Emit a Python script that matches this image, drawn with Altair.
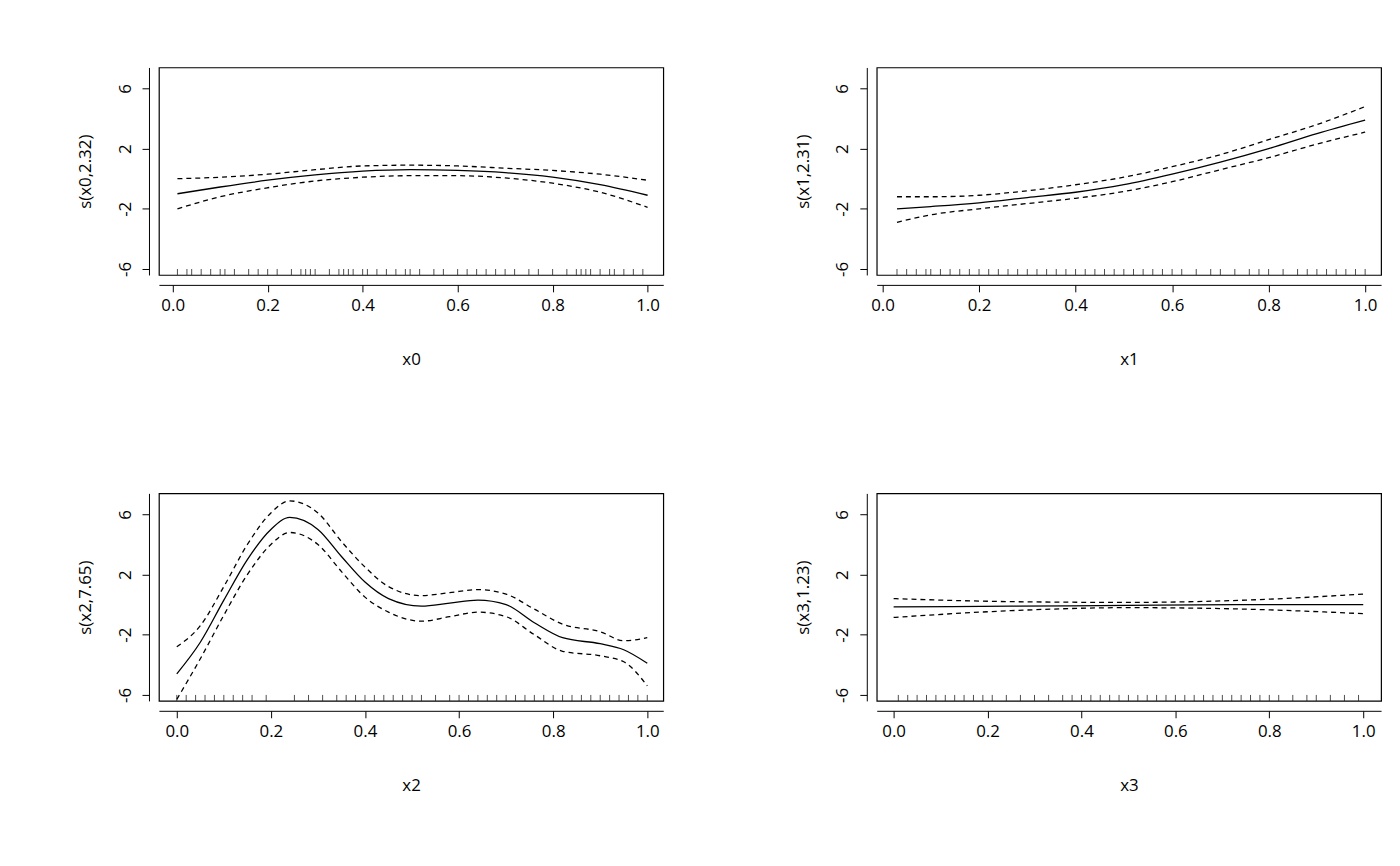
import altair as alt
import pandas as pd

# --- data ---
x0_x = [0.01, 0.1, 0.2, 0.3, 0.4, 0.5, 0.6, 0.7, 0.8, 0.9, 1.0]
x0_fit = [-1.0, -0.55, -0.1, 0.25, 0.5, 0.6, 0.55, 0.4, 0.1, -0.4, -1.1]
x0_up = [0.0, 0.1, 0.3, 0.6, 0.85, 0.9, 0.85, 0.7, 0.55, 0.3, -0.1]
x0_lo = [-2.0, -1.2, -0.6, -0.15, 0.1, 0.2, 0.2, 0.05, -0.3, -0.9, -1.9]

x1_x = [0.03, 0.1, 0.2, 0.3, 0.4, 0.5, 0.6, 0.7, 0.8, 0.9, 1.0]
x1_fit = [-2.0, -1.85, -1.6, -1.25, -0.9, -0.4, 0.3, 1.1, 2.0, 3.0, 3.9]
x1_up = [-1.2, -1.2, -1.1, -0.8, -0.4, 0.1, 0.8, 1.6, 2.6, 3.6, 4.8]
x1_lo = [-2.9, -2.4, -2.0, -1.65, -1.3, -0.85, -0.2, 0.6, 1.4, 2.3, 3.1]

x2_x = [0.0, 0.05, 0.1, 0.15, 0.2, 0.24, 0.3, 0.35, 0.4, 0.45, 0.52, 0.58, 0.64, 0.7, 0.76, 0.82, 0.9, 0.95, 1.0]
x2_fit = [-4.6, -2.5, 0.3, 3.0, 5.0, 5.8, 5.0, 3.2, 1.5, 0.4, -0.1, 0.1, 0.3, 0.0, -1.2, -2.2, -2.6, -3.0, -3.9]
x2_up = [-2.8, -1.4, 1.2, 4.0, 6.1, 6.9, 6.1, 4.2, 2.5, 1.2, 0.6, 0.8, 1.0, 0.7, -0.3, -1.3, -1.8, -2.4, -2.2]
x2_lo = [-6.3, -3.6, -0.7, 2.0, 4.0, 4.8, 4.0, 2.2, 0.5, -0.5, -1.1, -0.8, -0.5, -0.8, -2.0, -3.1, -3.4, -3.8, -5.4]

x3_x = [0.0, 0.25, 0.5, 0.75, 1.0]
x3_fit = [-0.15, -0.1, -0.05, 0.0, 0.0]
x3_up = [0.4, 0.2, 0.15, 0.3, 0.7]
x3_lo = [-0.85, -0.4, -0.2, -0.3, -0.6]

rug0 = [0.01,0.03,0.04,0.06,0.08,0.1,0.11,0.13,0.16,0.18,0.2,0.22,0.25,0.27,0.28,0.29,0.3,0.33,0.35,0.36,0.37,0.38,0.4,0.41,0.43,0.45,0.47,0.49,0.5,0.52,0.55,0.57,0.6,0.62,0.64,0.66,0.68,0.7,0.72,0.75,0.77,0.8,0.83,0.85,0.86,0.87,0.88,0.9,0.92,0.93,0.95,0.97,0.99]
rug1 = [0.03,0.05,0.07,0.09,0.1,0.12,0.14,0.16,0.18,0.2,0.22,0.24,0.26,0.28,0.3,0.32,0.34,0.36,0.38,0.4,0.42,0.44,0.46,0.48,0.5,0.52,0.54,0.56,0.58,0.6,0.62,0.65,0.68,0.7,0.73,0.76,0.78,0.8,0.83,0.86,0.88,0.9,0.92,0.94,0.96,0.98,1.0]
rug2 = [0.0,0.02,0.04,0.06,0.08,0.1,0.12,0.14,0.16,0.19,0.25,0.28,0.31,0.34,0.36,0.38,0.4,0.42,0.44,0.46,0.48,0.5,0.52,0.55,0.58,0.6,0.62,0.64,0.66,0.68,0.7,0.72,0.74,0.76,0.78,0.8,0.82,0.84,0.86,0.88,0.9,0.92,0.94,0.96,0.98,1.0]
rug3 = [0.01,0.03,0.05,0.07,0.09,0.11,0.13,0.15,0.17,0.19,0.21,0.24,0.27,0.3,0.33,0.36,0.38,0.4,0.42,0.44,0.46,0.48,0.5,0.52,0.54,0.56,0.58,0.6,0.62,0.64,0.66,0.68,0.7,0.72,0.74,0.76,0.78,0.8,0.82,0.85,0.88,0.9,0.93,0.96,0.99]

panels = [
    ("x0", "s(x0,2.32)", x0_x, x0_fit, x0_up, x0_lo, rug0, [-0.029, 1.033]),
    ("x1", "s(x1,2.31)", x1_x, x1_fit, x1_up, x1_lo, rug1, [-0.012, 1.033]),
    ("x2", "s(x2,7.65)", x2_x, x2_fit, x2_up, x2_lo, rug2, [-0.038, 1.034]),
    ("x3", "s(x3,1.23)", x3_x, x3_fit, x3_up, x3_lo, rug3, [-0.036, 1.038]),
]

W, H = 508, 209
FONT = "Open Sans"
FS = 17

def panel(name, ylab, xs, fit, up, lo, rug, xdom):
    df = pd.DataFrame({"x": xs, "fit": fit, "up": up, "lo": lo})
    xsc = alt.Scale(domain=xdom, nice=False, zero=False)
    ysc = alt.Scale(domain=[-6.4, 7.4], nice=False, zero=False)
    xax = alt.Axis(values=[0, 0.2, 0.4, 0.6, 0.8, 1.0], format=".1f", grid=False,
                   offset=10, tickSize=7, labelPadding=6, titlePadding=38,
                   domainColor="black", tickColor="black", labelColor="black",
                   labelFontSize=FS, titleFontSize=FS, titleFontWeight="normal",
                   labelFont=FONT, titleFont=FONT, titleColor="black", title=name)
    yax = alt.Axis(values=[-6, -4, -2, 0, 2, 4, 6], grid=False, offset=10, tickSize=7,
                   labelExpr="(datum.value==-6||datum.value==-2||datum.value==2||datum.value==6) ? replace(datum.label, '\u2212', '-') : ''",
                   labelAngle=-90, labelAlign="center", labelBaseline="bottom", labelPadding=8,
                   titlePadding=22, domainColor="black", tickColor="black", labelColor="black",
                   labelFontSize=FS, titleFontSize=FS, titleFontWeight="normal",
                   labelFont=FONT, titleFont=FONT, titleColor="black", title=ylab)
    base = alt.Chart(df)
    l_fit = base.mark_line(color="black", strokeWidth=1.3, interpolate="monotone").encode(
        x=alt.X("x:Q", scale=xsc, axis=xax), y=alt.Y("fit:Q", scale=ysc, axis=yax))
    l_up = base.mark_line(color="black", strokeWidth=1.3, strokeDash=[5, 4], interpolate="monotone").encode(
        x=alt.X("x:Q", scale=xsc), y=alt.Y("up:Q", scale=ysc))
    l_lo = base.mark_line(color="black", strokeWidth=1.3, strokeDash=[5, 4], interpolate="monotone").encode(
        x=alt.X("x:Q", scale=xsc), y=alt.Y("lo:Q", scale=ysc))
    r = alt.Chart(pd.DataFrame({"x": rug})).mark_rule(color="black", strokeWidth=0.7).encode(
        x=alt.X("x:Q", scale=xsc), y=alt.value(H), y2=alt.value(H - 6))
    return alt.layer(l_fit, l_up, l_lo, r).properties(width=W, height=H)

p = [panel(*a) for a in panels]
chart = alt.vconcat(
    alt.hconcat(p[0], p[1], spacing=130),
    alt.hconcat(p[2], p[3], spacing=130),
    spacing=125,
).configure(
    padding={"top": 56, "left": 68, "right": 10, "bottom": 10}, background="white"
).configure_view(stroke="black", strokeWidth=1.2)

chart.save("out.html", embed_options={"renderer": "svg", "actions": False})
